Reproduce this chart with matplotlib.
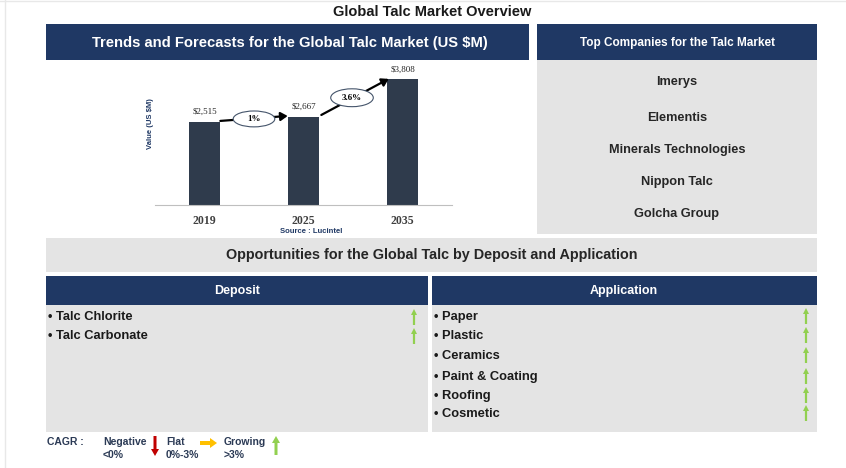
import numpy as np
import matplotlib.pyplot as plt
from matplotlib.patches import Rectangle, Ellipse, FancyArrow

# data
years = ["2019", "2025", "2035"]
values = [2515, 2667, 3808]
cagr_labels = ["1%", "3.6%"]
companies = ["Imerys", "Elementis", "Minerals Technologies", "Nippon Talc", "Golcha Group"]
deposits = ["Talc Chlorite", "Talc Carbonate"]
applications = ["Paper", "Plastic", "Ceramics", "Paint & Coating", "Roofing", "Cosmetic"]

navy = "#1F3864"
grey = "#E4E4E4"
bar_col = "#2F3B4C"
green = "#92D050"
arial = ["Liberation Sans", "DejaVu Sans"]
serif = ["Liberation Serif", "DejaVu Serif"]

fig = plt.figure(figsize=(8.46, 4.68), dpi=100)
bg = fig.add_axes([0, 0, 1, 1])
bg.set_xlim(0, 846)
bg.set_ylim(468, 0)
bg.axis("off")

def box(x0, y0, x1, y1, c):
    bg.add_patch(Rectangle((x0, y0), x1 - x0, y1 - y0, color=c, lw=0))

def arrow(x, y, dx, dy, c, w=2.5, hw=7, hl=6):
    bg.add_patch(FancyArrow(x, y, dx, dy, width=w, head_width=hw, head_length=hl,
                            length_includes_head=True, color=c, lw=0))

# frame lines
bg.plot([5, 5], [0, 468], color="#E8E8E8", lw=1)
bg.plot([0, 846], [1, 1], color="#E8E8E8", lw=1)

bg.text(432, 12, "Global Talc Market Overview", ha="center", va="center",
        fontsize=10.5, fontweight="bold", family=arial, color="#1a1a1a")

# top headers
box(46, 24, 529, 60, navy)
box(537, 24, 817, 60, navy)
bg.text(290, 43, "Trends and Forecasts for the Global Talc Market (US $M)", ha="center",
        va="center", fontsize=10.6, fontweight="bold", family=arial, color="white")
bg.text(678, 43, "Top Companies for the Talc Market", ha="center", va="center",
        fontsize=8.5, fontweight="bold", family=arial, color="white")

# companies
box(537, 60, 817, 234, grey)
for name, y in zip(companies, [82, 118, 150, 182, 214]):
    bg.text(677, y, name, ha="center", va="center", fontsize=9.2,
            fontweight="bold", family=arial, color="#262626")

# opportunities
box(46, 238, 817, 272, grey)
bg.text(432, 255, "Opportunities for the Global Talc by Deposit and Application",
        ha="center", va="center", fontsize=10.4, fontweight="bold", family=arial, color="#262626")
box(46, 276, 428, 305, navy)
box(432, 276, 817, 305, navy)
bg.text(237, 291, "Deposit", ha="center", va="center", fontsize=9,
        fontweight="bold", family=arial, color="white")
bg.text(624, 291, "Application", ha="center", va="center", fontsize=9,
        fontweight="bold", family=arial, color="white")
box(46, 305, 428, 432, grey)
box(432, 305, 817, 432, grey)

for item, y in zip(deposits, [317, 336]):
    bg.text(48, y, "\u2022 " + item, ha="left", va="center", fontsize=9.3,
            fontweight="bold", family=arial, color="#1a1a1a")
    arrow(414, y + 8, 0, -16, green, w=2.2, hw=6, hl=6)
for item, y in zip(applications, [317, 336, 356, 377, 396, 414]):
    bg.text(434, y, "\u2022 " + item, ha="left", va="center", fontsize=9.3,
            fontweight="bold", family=arial, color="#1a1a1a")
    arrow(806, y + 7, 0, -16, green, w=2.2, hw=6, hl=6)

# legend
lg = dict(fontsize=7.5, fontweight="bold", family=arial, color="#2B3A55", va="center", ha="left")
bg.text(47, 442, "CAGR :", **lg)
bg.text(103, 442, "Negative", **lg)
bg.text(103, 455, "<0%", **lg)
bg.text(166, 442, "Flat", **lg)
bg.text(166, 455, "0%-3%", **lg)
bg.text(224, 442, "Growing", **lg)
bg.text(224, 455, ">3%", **lg)
arrow(155, 436, 0, 20, "#C00000", w=3, hw=8, hl=7)
arrow(200, 443, 17, 0, "#FFC000", w=4, hw=10, hl=7)
arrow(276, 455, 0, -19, green, w=3, hw=8, hl=7)

# bar chart
ax = fig.add_axes([155 / 846, (468 - 205) / 468, 297 / 846, 145 / 468])
x = np.arange(len(years))
ax.bar(x, values, width=0.31, color=bar_col, zorder=2)
ax.set_xlim(-0.5, 2.5)
ax.set_ylim(0, 4380)
ax.set_yticks([])
ax.set_xticks(x)
ax.set_xticklabels(years, family=serif, fontweight="bold", fontsize=8.5, color="#404040")
ax.tick_params(axis="x", length=0, pad=7)
for s in ["top", "right", "left"]:
    ax.spines[s].set_visible(False)
ax.spines["bottom"].set_color("#BFBFBF")
ax.patch.set_alpha(0)
for xi, v in zip(x, values):
    ax.annotate("${:,}".format(v), (xi, v), xytext=(0, 4), textcoords="offset points",
                ha="center", va="bottom", fontsize=6.5, family=serif, color="#262626")
ax.set_ylabel("Value (US $M)", fontsize=5.5, fontweight="bold", family=arial, color="#1F3864")
ax.yaxis.set_label_coords(-0.005, 0.56)
ax.text(1.08, -0.18, "Source : Lucintel", transform=ax.get_xaxis_transform(), ha="center",
        va="center", fontsize=5.5, fontweight="bold", family=arial, color="#1F3864")

# cagr arrows with ellipses
arrows = [((0.16, 2540), (0.84, 2690)), ((1.18, 2720), (1.86, 3810))]
ells = [(0.5, 2600, 0.42, 480), (1.49, 3240, 0.43, 540)]
for (a, b), (ex, ey, ew, eh), lab in zip(arrows, ells, cagr_labels):
    ax.annotate("", xy=b, xytext=a,
                arrowprops=dict(arrowstyle="-|>,head_width=0.25,head_length=0.4", color="black",
                                lw=1.6, shrinkA=0, shrinkB=0),
                zorder=3)
    ax.add_patch(Ellipse((ex, ey), ew, eh, facecolor="white", edgecolor="#44546A", lw=0.8, zorder=4))
    ax.text(ex, ey, lab, ha="center", va="center", fontsize=6.5, fontweight="bold",
            family=serif, zorder=5)

fig.savefig("out.png", dpi=100)
